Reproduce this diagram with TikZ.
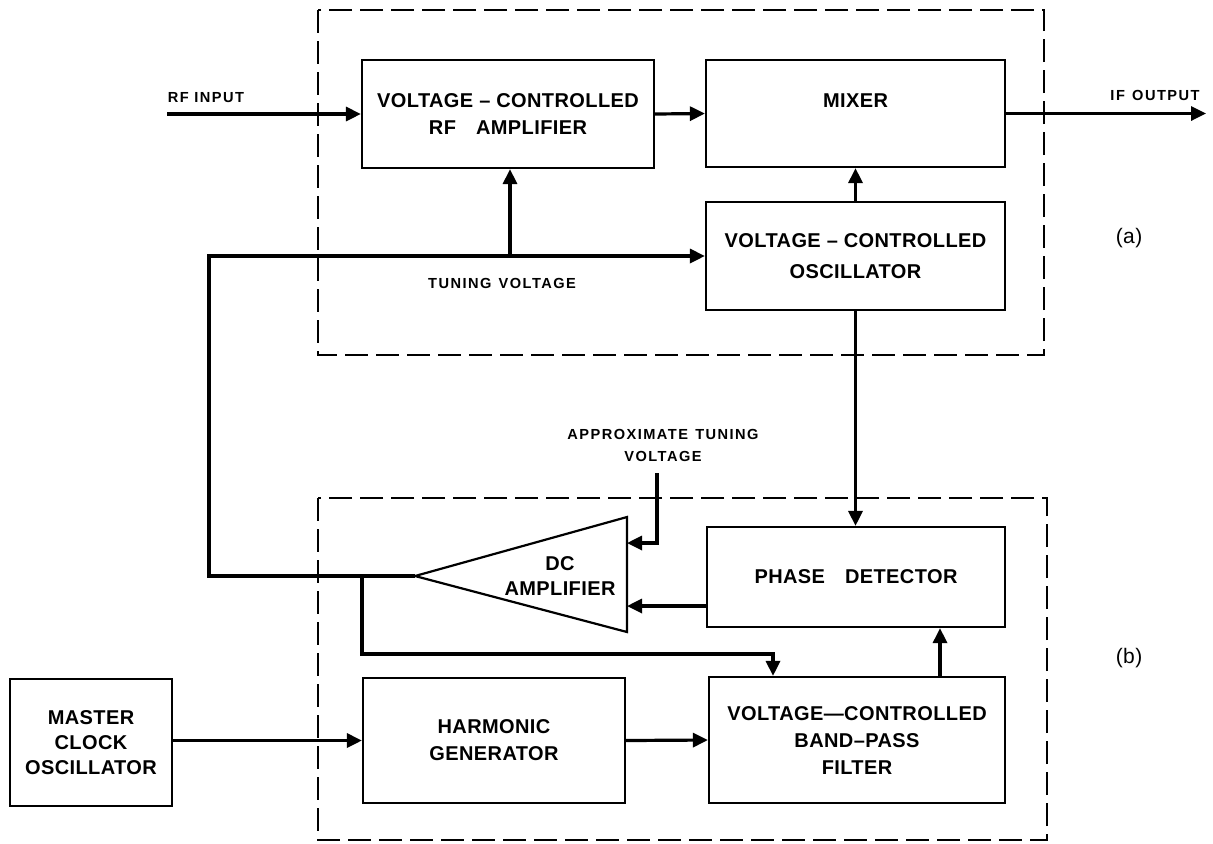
\documentclass[tikz,border=0pt]{standalone}
\usepackage{fontspec}
\setmainfont{Liberation Sans}[LetterSpace=2]
\newfontfamily\lblfont{Liberation Sans}[LetterSpace=10]
\usetikzlibrary{arrows.meta}
\begin{document}
\begin{tikzpicture}[x=0.5pt,y=-0.5pt,
  box/.style={draw, line width=1.1pt, rectangle, align=center, inner sep=0pt,
              font=\bfseries\fontsize{10}{13.5}\selectfont},
  conn/.style={line width=1.6pt},
  arr/.style={conn, -{Triangle[length=7.5pt,width=7pt]}},
  grp/.style={draw, line width=1pt, dash pattern=on 11.5pt off 4pt},
  lbl/.style={font=\lblfont\bfseries\fontsize{7.3}{11}\selectfont, align=center, inner sep=0pt},
  tag/.style={font=\fontsize{10.5}{12}\selectfont, inner sep=0pt}]
\useasboundingbox (0,0) rectangle (1213,843);

% group outlines
\draw[grp] (318,10) rectangle (1044,355);
\draw[grp] (318,498) rectangle (1047,840);

% blocks
\node[box, minimum width=146pt, minimum height=54pt] (rfamp) at (508,114)
  {VOLTAGE -- CONTROLLED\\RF\quad AMPLIFIER};
\node[box, minimum width=149.5pt, minimum height=53.5pt,
  label={[font=\bfseries\fontsize{10}{13.5}\selectfont, yshift=6.25pt]center:MIXER}] (mixer) at (855.5,113.5) {};
\node[box, minimum width=149.5pt, minimum height=54pt,
  font=\bfseries\fontsize{10}{15.5}\selectfont] (vco) at (855.5,256)
  {VOLTAGE -- CONTROLLED\\OSCILLATOR};
\node[box, minimum width=149pt, minimum height=50pt] (pd) at (856,577)
  {PHASE\quad DETECTOR};
\node[box, minimum width=148pt, minimum height=63pt] (bpf) at (857,740)
  {VOLTAGE---CONTROLLED\\BAND--PASS\\FILTER};
\node[box, minimum width=131pt, minimum height=62.5pt] (hg) at (494,740.5)
  {HARMONIC\\GENERATOR};
\node[box, minimum width=81pt, minimum height=63.5pt,
  font=\bfseries\fontsize{10}{12.5}\selectfont] (mco) at (91,742.5)
  {MASTER\\CLOCK\\OSCILLATOR};

% DC amplifier (triangle)
\coordinate (dctip) at (415,576);
\coordinate (dctop) at (627,517);
\coordinate (dcbot) at (627,632);
\draw[line width=1.1pt, line join=miter] (dctip) -- (dctop) -- (dcbot) -- cycle;
\node[align=center, inner sep=0pt, font=\bfseries\fontsize{10}{12.5}\selectfont] (dclbl) at (560,576) {DC\\AMPLIFIER};
\coordinate (dcin1) at (627,543);
\coordinate (dcin2) at (627,606);

% free ends and bends
\coordinate (rfin) at (167,114);
\coordinate (ifout) at (1206,113.5);
\coordinate (tcorner) at (209,256);
\coordinate (tjoin) at (510,256);
\coordinate (approx) at (657,473);
\coordinate (bjoin) at (362,576);
\coordinate (bcorner) at (773,654);
\coordinate (bpfout) at (940,677);

% connectors
\draw[arr] (rfin) -- (rfamp.west);
\draw[arr] (rfamp.east) -- (mixer.west);
\draw[arr] (mixer.east) -- (ifout);
\draw[arr] (vco.north) -- (mixer.south);
\draw[arr] (dctip) -| (tcorner) -- (vco.west);
\draw[arr] (tjoin) -- (tjoin |- rfamp.south);
\draw[arr] (vco.south) -- (vco.south |- pd.north);
\draw[arr] (approx) |- (dcin1);
\draw[arr] (pd.west |- dcin2) -- (dcin2);
\draw[arr] (bjoin) |- (bcorner) -- (bcorner |- bpf.north);
\draw[arr] (bpfout) -- (bpfout |- pd.south);
\draw[arr] (hg.west -| mco.east) -- (hg.west);
\draw[arr] (hg.east) -- (bpf.west);

% labels
\node[lbl] (rfinlbl) at (206,98) {RF INPUT};
\node[lbl] (iflbl) at (1155,95) {IF\enspace OUTPUT};
\node[lbl] (tvlbl) at (502,283) {TUNING\enspace VOLTAGE};
\node[lbl] (atvlbl) at (663,445) {APPROXIMATE\enspace TUNING\\VOLTAGE};
\node[tag] (taga) at (1129,238) {(a)};
\node[tag] (tagb) at (1129,658) {(b)};
\end{tikzpicture}
\end{document}
